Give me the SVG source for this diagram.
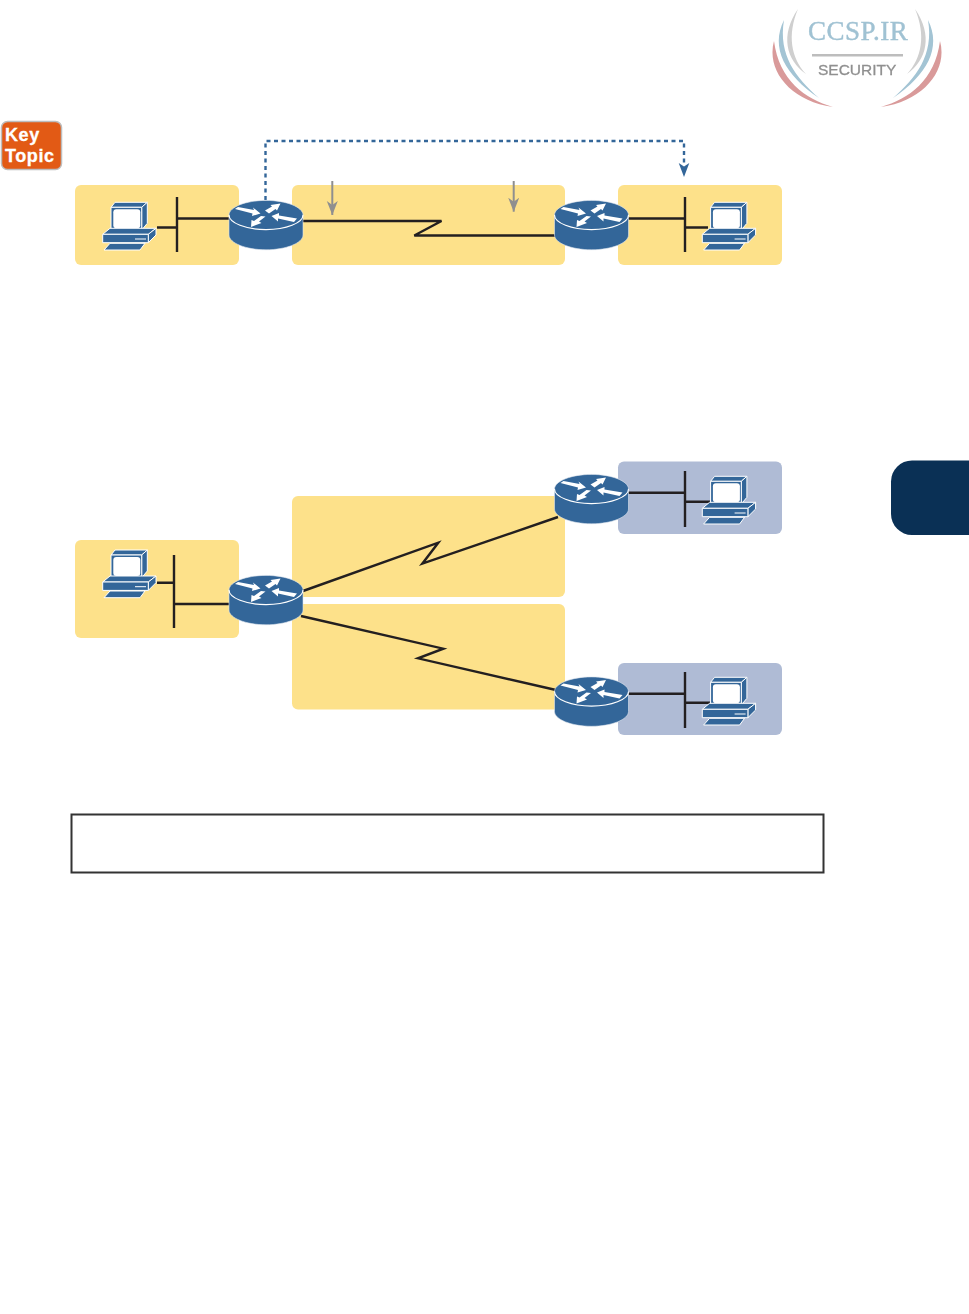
<svg xmlns="http://www.w3.org/2000/svg" width="969" height="1314" viewBox="0 0 969 1314">
<style>
.panel{fill:#fde18a}
.blue{fill:#afbbd5}
.wire{fill:none;stroke:#231f20;stroke-width:2.400;stroke-linejoin:miter}
.gray{fill:none;stroke:#8f8f8f;stroke-width:2}
.dash{fill:none;stroke:#336699;stroke-width:2.400;stroke-dasharray:4 3.500}
.dev{fill:#336699;stroke:#fff;stroke-width:1;stroke-linejoin:round}
.arr{fill:#fff;stroke:none}
.rbody{fill:#336699;stroke:#dfe6ee;stroke-width:.6}
.rim{fill:none;stroke:#fff;stroke-width:1.100}
.kt{font-family:"Liberation Sans",Arial,sans-serif;font-weight:700;font-size:18px;letter-spacing:.6px;fill:#fff;stroke:#fff;stroke-width:.3}
</style>
<defs>
<filter id="soft" x="-5%" y="-5%" width="110%" height="110%"><feGaussianBlur stdDeviation="0.5"/></filter>
<marker id="gh" markerUnits="userSpaceOnUse" markerWidth="15" markerHeight="12" refX="14" refY="5.500" orient="auto"><path d="M0,0 L14,5.500 L0,11 L4,5.500 Z" fill="#8f8f8f"/></marker>
<g id="router">
<path class="rbody" d="M-37,0 V20 C-37,28 -20,34.800 0,34.800 C20,34.800 37,28 37,20 V0 C37,-8 20,-14.600 0,-14.600 C-20,-14.600 -37,-8 -37,0 Z"/>
<path class="rim" d="M-37,0 C-37,8 -20,14.600 0,14.600 C20,14.600 37,8 37,0"/>
<path class="arr" d="M-31,-6 L-28,-8 L-12,-5 L-13,-7.500 L-5.500,-1.500 L-14,1 L-13.500,-1.500 Z"/>
<path class="arr" d="M-1,-4.500 L6,-8.500 L4.500,-10 L14.500,-11.500 L11,-4.500 L9.500,-6 L3,-1.500 Z"/>
<path class="arr" d="M-.5,1.500 L-7,6.500 L-4.500,8 L-15,12 L-14.500,5 L-12,6 L-5,1 Z"/>
<path class="arr" d="M31,3.500 L28,7 L12,3.500 L12,6.500 L5.500,1 L13,-2 L13,.5 Z"/>
</g>
<g id="pc">
<path class="dev" d="M9,7.300 L13,2.300 H45.300 L39.700,7.300 Z"/>
<path class="dev" d="M39.700,7.300 L45.300,2.300 V23.300 L39.700,30 Z"/>
<rect class="dev" x="9" y="7.300" width="30.700" height="22.700"/>
<rect x="11.300" y="9.300" width="27" height="19" rx="3" fill="#fff"/>
<path class="dev" d="M.7,34.300 L8,28.300 H54 L46.300,34.300 Z"/>
<path class="dev" d="M46.300,34.300 L54,28.300 V35 L46.300,42.700 Z"/>
<rect class="dev" x=".7" y="34.300" width="45.600" height="8.400"/>
<path d="M33,39 H44" stroke="#fff" stroke-width="1"/>
<path class="dev" d="M8,43.300 H43 L38,50 H2 Z"/>
</g>
</defs>

<g id="watermark" filter="url(#soft)">
<path d="M798,9 C780,35 786,60 806,74 C791,58 787,35 798,9 Z" fill="#cfcfcf"/>
<path d="M915,9 C933,35 927,60 907,74 C922,58 926,35 915,9 Z" fill="#cfcfcf"/>
<path d="M784,20 C770,48 785,75 819,98 C796,78 778,55 784,20 Z" fill="#a3c4d4"/>
<path d="M928,20 C942,48 927,75 893,98 C916,78 934,55 928,20 Z" fill="#a3c4d4"/>
<path d="M774,41 C766,70 790,101 833,107 C805,99 779,80 774,41 Z" fill="#d99a9a"/>
<path d="M940,41 C948,70 924,101 881,107 C909,99 935,80 940,41 Z" fill="#d99a9a"/>
<text x="808" y="40" font-family="'Liberation Serif','Times New Roman',serif" font-size="27" letter-spacing=".5" fill="#a0c2d3" stroke="#a0c2d3" stroke-width=".4">CCSP.IR</text>
<rect x="812" y="54" width="91" height="2.500" fill="#bdbdbd"/>
<text x="818" y="75" font-family="'Liberation Sans',Arial,sans-serif" font-size="15.500" fill="#8f8f8f" stroke="#8f8f8f" stroke-width=".3">SECURITY</text>
</g>

<g id="key-topic">
<rect x="1.500" y="121.500" width="60" height="48" rx="6" fill="#e25a15" stroke="#bdbdbd" stroke-width="1.500"/>
<text class="kt" x="5" y="141">Key</text>
<text class="kt" x="5" y="161.500">Topic</text>
</g>

<g id="chapter-tab"><path d="M969,460.500 H912 A21,21 0 0 0 891,481.500 V514 A21,21 0 0 0 912,535 H969 Z" fill="#0a3055"/></g>

<g id="panels">
<rect class="panel" x="75" y="185" width="164" height="80" rx="6"/>
<rect class="panel" x="292" y="185" width="273" height="80" rx="6"/>
<rect class="panel" x="618" y="185" width="164" height="80" rx="6"/>
<rect class="panel" x="75" y="540" width="164" height="98" rx="6"/>
<rect class="panel" x="292" y="496" width="273" height="101" rx="6"/>
<rect class="panel" x="292" y="604" width="273" height="105.500" rx="6"/>
<rect class="blue" x="618" y="461.500" width="164" height="72.500" rx="6"/>
<rect class="blue" x="618" y="663" width="164" height="72" rx="6"/>
</g>

<g id="connectors">
<path class="wire" d="M177,197 V252 M177,218.500 H230 M157,227.500 H177"/>
<path class="wire" d="M685,197 V252 M628,218.500 H685 M685,227.500 H708"/>
<path class="wire" d="M303,221 H441.500 L414.300,235.500 H556"/>
<path class="wire" d="M174,555 V628 M174,604 H230 M157,582.700 H174"/>
<path class="wire" d="M685,471 V527 M628,492.700 H685 M685,501.700 H710"/>
<path class="wire" d="M685,672 V728 M628,693.700 H685 M685,702.700 H710"/>
<path class="wire" d="M303,591 L438.300,542.700 L422.300,563.700 L558,517"/>
<path class="wire" d="M301,616 L443.300,648.700 L418,658.300 L556,690"/>
<path class="gray" d="M332.300,181 V215" marker-end="url(#gh)"/>
<path class="gray" d="M513.700,181 V211.700" marker-end="url(#gh)"/>
<path class="dash" d="M265.500,200 V141 H684 V166"/>
<path d="M678.700,163 L684,166.500 L689.300,163 L684,177 Z" fill="#336699"/>
</g>

<g id="router-a"><use href="#router" x="266" y="215"/></g>
<g id="router-b"><use href="#router" x="591.500" y="215"/></g>
<g id="router-c"><use href="#router" x="266" y="590"/></g>
<g id="router-d"><use href="#router" x="591.500" y="489"/></g>
<g id="router-e"><use href="#router" x="591.500" y="691.500"/></g>

<g id="pc-a"><use href="#pc" x="102" y="200"/></g>
<g id="pc-b"><use href="#pc" x="701.600" y="200"/></g>
<g id="pc-c"><use href="#pc" x="102" y="547.700"/></g>
<g id="pc-d"><use href="#pc" x="701.600" y="474"/></g>
<g id="pc-e"><use href="#pc" x="701.600" y="675"/></g>

<rect id="note-box" x="71.500" y="814.500" width="752" height="58" fill="#fff" stroke="#333" stroke-width="2"/>
</svg>
